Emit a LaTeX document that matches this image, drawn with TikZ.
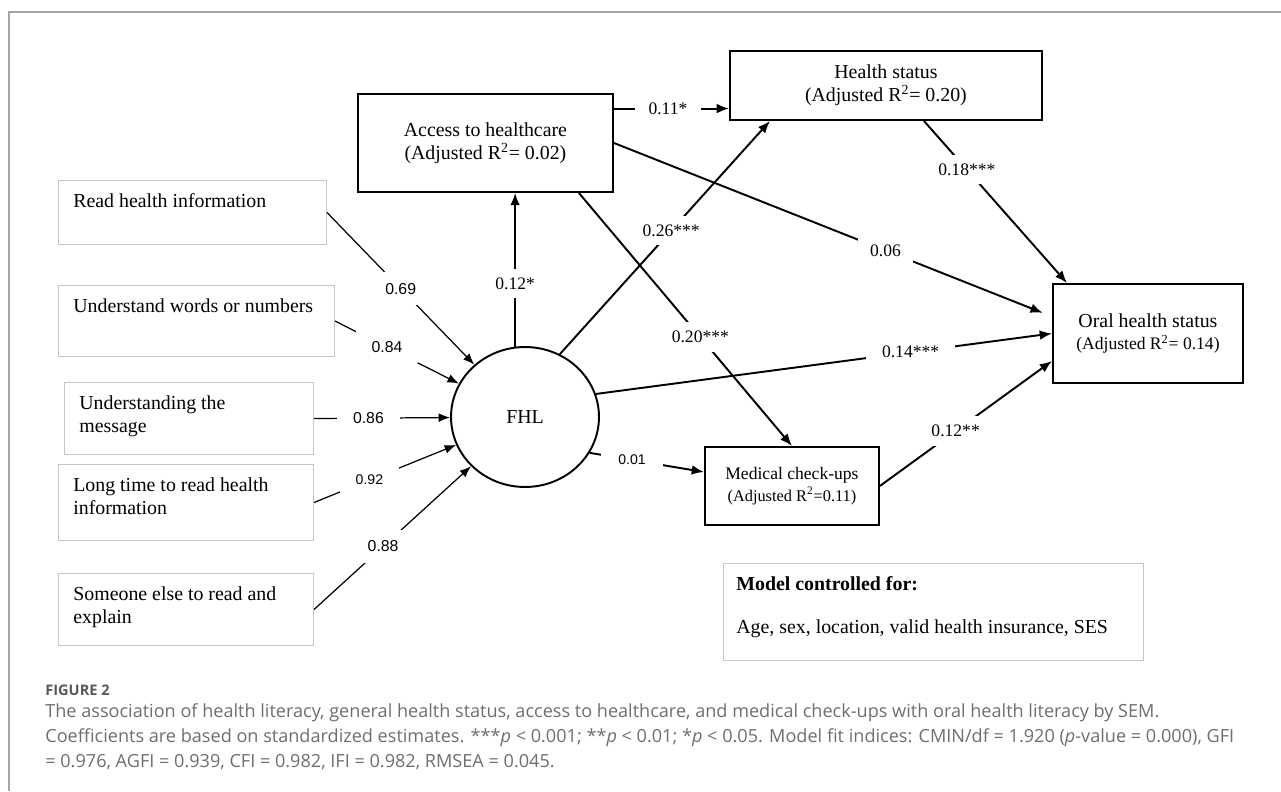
\documentclass[tikz,border=0pt]{standalone}
\usepackage{fontspec}
\setmainfont{Liberation Serif}
\newfontfamily\numfont{Liberation Sans}
\newfontfamily\capfont{Open Sans}
\usetikzlibrary{arrows.meta,shapes.geometric,calc}
\definecolor{captext}{HTML}{6E6E6E}
\definecolor{capfig}{HTML}{595959}

\begin{document}
\begin{tikzpicture}[x=0.02cm, y=-0.02cm,
    indbox/.style={draw=gray!45, line width=0.6pt, anchor=north west, inner sep=0pt},
    indtext/.style={anchor=north west, align=left, inner sep=0pt, xshift=0.3cm, yshift=-0.26cm,
        font=\fontsize{11.3}{13.5}\selectfont},
    varbox/.style={draw, line width=1.1pt, anchor=north west, inner sep=0pt, align=center,
        font=\fontsize{11.3}{13}\selectfont},
    link/.style={line width=1.1pt, -{Latex[length=7pt,width=5.5pt]}},
    load/.style={line width=0.7pt, -{Latex[length=6.5pt,width=5pt]}},
    coef/.style={fill=white, inner xsep=7pt, inner ysep=5pt, font=\fontsize{10}{12}\selectfont},
    lcoef/.style={fill=white, inner xsep=9pt, inner ysep=6pt, font=\numfont\fontsize{9}{11}\selectfont}
]
    \useasboundingbox (0,0) rectangle (1281,791);

    % cornice
    \draw[gray!70, line width=0.8pt] (9,791) -- (9,12) -- (1281,12);

    % --- indicatori ---
    \node[indbox, minimum width=5.36cm, minimum height=1.28cm,
        label={[indtext]north west:{Read health information}}] (read) at (58,180) {};
    \node[indbox, minimum width=5.52cm, minimum height=1.42cm,
        label={[indtext]north west:{Understand words or numbers}}] (words) at (58,285) {};
    \node[indbox, minimum width=4.98cm, minimum height=1.44cm,
        label={[indtext]north west:{Understanding the\\message}}] (msg) at (64,382) {};
    \node[indbox, minimum width=5.10cm, minimum height=1.52cm,
        label={[indtext]north west:{Long time to read health\\information}}] (long) at (58,464) {};
    \node[indbox, minimum width=5.10cm, minimum height=1.44cm,
        label={[indtext]north west:{Someone else to read and\\explain}}] (other) at (58,573) {};

    % variabile latente
    \node[ellipse, draw, line width=1.1pt, minimum width=2.96cm, minimum height=2.80cm,
        font=\fontsize{11.3}{13}\selectfont] (fhl) at (525,417) {FHL};

    % --- variabili osservate ---
    \node[varbox, minimum width=5.10cm, minimum height=1.96cm] (access) at (357,93)
        {Access to healthcare\\(Adjusted R\textsuperscript{2}= 0.02)};
    \node[varbox, minimum width=6.24cm, minimum height=1.38cm] (health) at (729,50)
        {Health status\\(Adjusted R\textsuperscript{2}= 0.20)};
    \node[varbox, minimum width=3.80cm, minimum height=1.98cm] (oral) at (1052,283)
        {Oral health status\\{\fontsize{10}{12}\selectfont (Adjusted R\textsuperscript{2}= 0.14)}};
    \node[varbox, minimum width=3.48cm, minimum height=1.56cm, font=\fontsize{10}{12.5}\selectfont] (medical) at (704,446)
        {Medical check-ups\\{\fontsize{9.3}{11}\selectfont (Adjusted R\textsuperscript{2}=0.11)}};

    % controlli
    \node[indbox, minimum width=8.40cm, minimum height=1.94cm,
        label={[indtext, xshift=-0.04cm]north west:{\textbf{Model controlled for:}\\[11pt]Age, sex, location, valid health insurance, SES}}] (model) at (723,563) {};

    % --- saturazioni ---
    \draw[load] (read.east) -- node[lcoef, pos=0.5] {0.69} (fhl);
    \draw[load] (words.east) -- node[lcoef, pos=0.42] {0.84} (fhl);
    \draw[load] (msg.east) -- node[lcoef, pos=0.4] {0.86} (fhl);
    \draw[load] (long.east) -- node[lcoef, pos=0.39, font=\numfont\fontsize{8}{10}\selectfont] {0.92} (fhl);
    \draw[load] (other.east) -- node[lcoef, pos=0.44] {0.88} (fhl);

    % --- percorsi strutturali ---
    \draw[link] (fhl.98) -- node[coef, pos=0.41] {0.12*} (fhl.98 |- access.south);
    \draw[link] (access.15) -- node[coef, pos=0.47, inner xsep=8pt] {0.11*} (access.15 -| health.west);
    \draw[link] (fhl.61) -- node[coef, pos=0.53] {0.26***} ($(health.south west)+(41,0)$);
    \draw[link] ($(access.south east)+(-35,0)$) -- node[coef, pos=0.57] {0.20***} (medical.north);
    \draw[link, shorten >=0.2cm] (access.east) -- node[coef, pos=0.62] {0.06} (oral.170);
    \draw[link] (fhl.18) -- node[coef, pos=0.69, inner xsep=9pt] {0.14***} (oral.west);
    \draw[link] ($(health.south)+(38,0)$) -- node[coef, pos=0.3] {0.18***} ($(oral.north west)+(15,0)$);
    \draw[link] (medical.east) -- node[coef, pos=0.44] {0.12**} (oral.-164);
    \draw[link] (fhl.-29) -- node[lcoef, pos=0.37, inner xsep=10pt, font=\numfont\fontsize{8}{10}\selectfont] {0.01} (medical.171);

    % didascalia
    \node[anchor=west, inner sep=0pt, text=capfig, font=\capfont\bfseries\fontsize{8.3}{10}\selectfont] (figlabel) at (45,690) {FIGURE 2};
    \node[anchor=north west, inner sep=0pt, align=left, text=captext,
        font=\capfont\fontsize{10.3}{14.2}\selectfont] (caption) at (45,703)
        {The association of health literacy, general health status, access to healthcare, and medical check-ups with oral health literacy by SEM.\\
        Coefficients are based on standardized estimates. ***\textit{p} < 0.001; **\textit{p} < 0.01; *\textit{p} < 0.05. Model fit indices: CMIN/df = 1.920 (\textit{p}-value = 0.000), GFI\\
        = 0.976, AGFI = 0.939, CFI = 0.982, IFI = 0.982, RMSEA = 0.045.};
\end{tikzpicture}
\end{document}
